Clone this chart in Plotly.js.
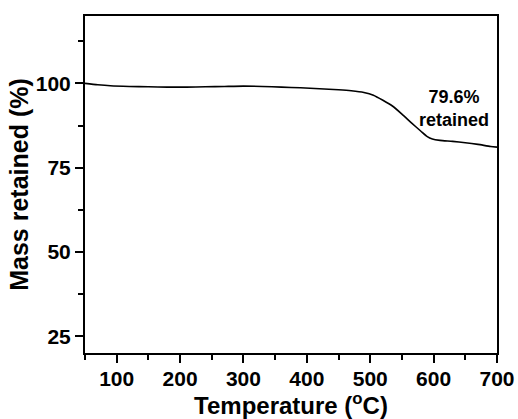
<!DOCTYPE html>
<html>
<head>
<meta charset="utf-8">
<script src="https://cdn.plot.ly/plotly-3.0.1.min.js"></script>
<style>
html,body{margin:0;padding:0;background:#fff;}
#chart{width:518px;height:419px;}
</style>
</head>
<body>
<div id="chart"></div>
<script>
const temperature = [50, 70, 90, 120, 150, 180, 210, 240, 270, 300, 330, 360, 390, 420, 450, 470, 490, 505, 520, 535, 550, 565, 580, 590, 598, 610, 630, 650, 670, 690, 700];
const massRetained = [100, 99.6, 99.3, 99.1, 99.0, 98.9, 98.9, 99.0, 99.1, 99.2, 99.1, 98.9, 98.7, 98.4, 98.1, 97.8, 97.3, 96.5, 95.0, 93.3, 90.9, 88.3, 85.8, 84.2, 83.5, 83.1, 82.8, 82.4, 81.9, 81.3, 81.1];
const annotationText = "<b>79.6%</b><br><b>retained</b>";
const xTitle = "<b>Temperature (<sup>o</sup>C)</b>";
const yTitle = "<b>Mass retained (%)</b>";

const FONT = "Liberation Sans, Arial, sans-serif";

const trace = {
  x: temperature,
  y: massRetained,
  type: "scatter",
  mode: "lines",
  line: {color: "#000", width: 1.6, shape: "spline", smoothing: 0.6},
  hoverinfo: "skip"
};

const axisCommon = {
  showline: true,
  mirror: true,
  linecolor: "#000",
  linewidth: 2,
  ticks: "outside",
  ticklen: 8,
  tickwidth: 2,
  tickcolor: "#000",
  showgrid: false,
  zeroline: false,
  tickfont: {family: FONT, size: 21, color: "#000", weight: 700},
  automargin: false
};

const layout = {
  width: 518,
  height: 419,
  margin: {l: 85, r: 21, t: 16, b: 66},
  paper_bgcolor: "#fff",
  plot_bgcolor: "#fff",
  showlegend: false,
  xaxis: Object.assign({}, axisCommon, {
    range: [50, 700],
    tick0: 0,
    dtick: 100,
    ticklabelstandoff: -2,
    minor: {dtick: 50, tick0: 0, ticks: "outside", ticklen: 5, tickwidth: 2, tickcolor: "#000", showgrid: false},
    title: {text: xTitle, font: {family: FONT, size: 24, color: "#000"}, standoff: 6}
  }),
  yaxis: Object.assign({}, axisCommon, {
    range: [20, 120],
    tick0: 0,
    dtick: 25,
    minor: {dtick: 12.5, tick0: 0, ticks: "outside", ticklen: 5, tickwidth: 2, tickcolor: "#000", showgrid: false},
    title: {text: yTitle, font: {family: FONT, size: 25, color: "#000"}, standoff: 0}
  }),
  annotations: [{
    x: 632, y: 92.6, xref: "x", yref: "y",
    text: annotationText,
    showarrow: false,
    font: {family: FONT, size: 18, color: "#000"},
    align: "center"
  }]
};

Plotly.newPlot("chart", [trace], layout, {displayModeBar: false, staticPlot: true});
</script>
</body>
</html>
